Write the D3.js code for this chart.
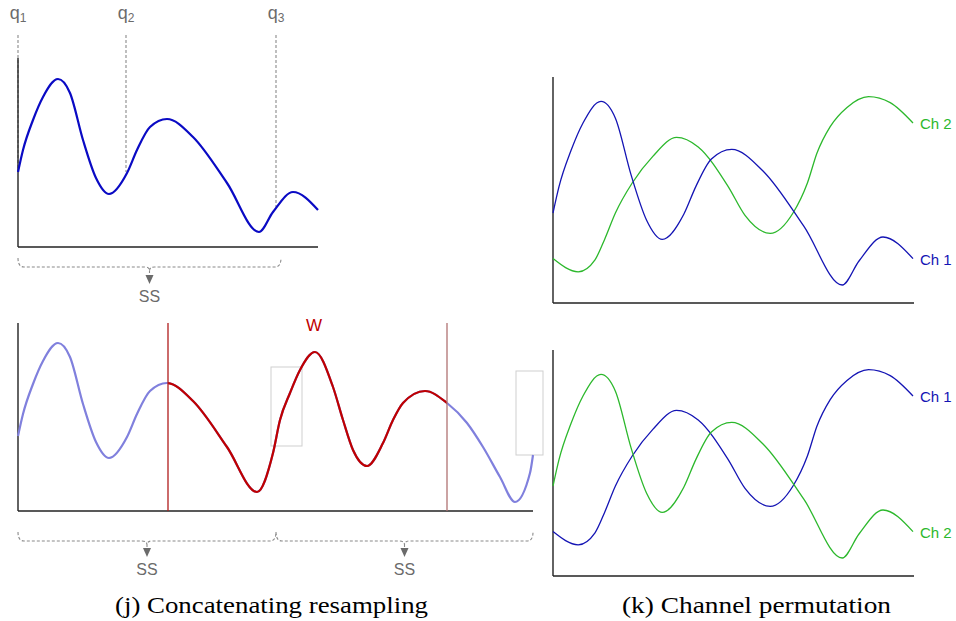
<!DOCTYPE html>
<html>
<head>
<meta charset="utf-8">
<script src="https://cdn.jsdelivr.net/npm/d3@7/dist/d3.min.js"></script>
<style>
  body { margin: 0; background: #fff; }
  svg { display: block; }
</style>
</head>
<body>
<svg id="chart" width="956" height="621"></svg>
<script>
// ---------- DATA ----------
// Base signal (Ch 1 of the original series), time vs amplitude
const baseT = [0, 5, 15, 25, 40, 52, 65, 78, 91, 109, 119, 132, 149, 175, 209, 241, 255, 275, 300];
const baseV = [75, 97, 127, 150, 168, 154, 107, 69, 53, 74, 97, 120, 128, 110, 64, 15, 35, 55, 37];

// Second channel (Ch 2)
const greenT = [0, 21, 35, 43, 52, 66, 83, 103, 121, 146, 160, 181, 200, 212, 220, 231, 245, 263, 281, 300];
const greenV = [37, 26, 36, 53, 75, 100, 122, 138, 130, 97, 73, 58, 75, 100, 125, 147, 163, 172, 167, 150];

// Concatenated (resampled) signal
const concatT = [0, 5, 15, 25, 40, 52, 65, 78, 91, 109, 119, 132, 149, 175, 209, 239, 255, 262, 272, 282, 297, 315, 325, 335, 349, 365, 375, 385, 407, 429, 449, 465, 482, 497, 512, 515];
const concatV = [75, 97, 127, 150, 168, 154, 107, 69, 53, 74, 97, 120, 128, 110, 64, 19, 58, 91, 118, 141, 159, 124, 91, 61, 45, 68, 91, 108, 120, 108, 88, 64, 34, 9, 38, 56];

// Query points q1..q3 and the signal value where each dashed line ends
const qLabels = ["1", "2", "3"];
const qT = [0, 108, 258];
const qV = [75, 75, 40];

// Window W boundaries and subsequence splits
const windowT = [150, 429];
const segStartT = [0, 258];
const segEndT = [258, 515];
const topSegT = [0, 263];
const ghostRects = [[253, 284, 65, 144], [498, 525, 56, 140]]; // t0, t1, v0, v1

const captions = ["(j) Concatenating resampling", "(k) Channel permutation"];
const chLabelsTop = ["Ch 2", "Ch 1"];
const chLabelsBottom = ["Ch 1", "Ch 2"];

// ---------- DRAWING ----------
const svg = d3.select("#chart");
const SANS = "'Liberation Sans', Arial, Helvetica, sans-serif";
const GREY = "#6b6b6b";
const AXIS = "#222";

const zip = (ts, vs) => ts.map((t, i) => [t, vs[i]]);
const base = zip(baseT, baseV);
const green = zip(greenT, greenV);
const concat = zip(concatT, concatV);

function lineGen(x, y) {
  return d3.line().x(d => x(d[0])).y(d => y(d[1])).curve(d3.curveMonotoneX);
}

function axesL(g, x0, x1, y0, y1) {
  g.append("line").attr("x1", x0).attr("x2", x0).attr("y1", y1).attr("y2", y0)
    .attr("stroke", AXIS).attr("stroke-width", 1.4);
  g.append("line").attr("x1", x0).attr("x2", x1).attr("y1", y0).attr("y2", y0)
    .attr("stroke", AXIS).attr("stroke-width", 1.4);
}

function brace(g, x0, x1, y, mid, arrowLen) {
  const p = d3.path();
  p.moveTo(x0, y - 9);
  p.quadraticCurveTo(x0, y, x0 + 6, y);
  p.lineTo(mid - 5, y);
  p.quadraticCurveTo(mid, y, mid, y + 4);
  p.quadraticCurveTo(mid, y, mid + 5, y);
  p.lineTo(x1 - 6, y);
  p.quadraticCurveTo(x1, y, x1, y - 9);
  g.append("path").attr("d", p.toString()).attr("fill", "none")
    .attr("stroke", "#8a8a8a").attr("stroke-width", 1.1).attr("stroke-dasharray", "3,2");
  g.append("line").attr("x1", mid).attr("x2", mid).attr("y1", y + 4).attr("y2", y + arrowLen - 8)
    .attr("stroke", "#8a8a8a").attr("stroke-width", 1.1).attr("stroke-dasharray", "2,2");
  g.append("path")
    .attr("d", `M${mid - 4},${y + arrowLen - 9} L${mid + 4},${y + arrowLen - 9} L${mid},${y + arrowLen} Z`)
    .attr("fill", GREY);
  g.append("text").attr("x", mid).attr("y", y + arrowLen + 18)
    .attr("text-anchor", "middle").attr("font-family", SANS).attr("font-size", 16)
    .attr("fill", GREY).text("SS");
}

// ----- Panel (j) top: original signal with query points -----
{
  const g = svg.append("g");
  const x = d3.scaleLinear().domain([0, 300]).range([18, 318]);
  const y = d3.scaleLinear().domain([0, 189]).range([247, 58]);
  qT.forEach((t, i) => {
    g.append("line").attr("x1", x(t)).attr("x2", x(t)).attr("y1", 35).attr("y2", y(qV[i]))
      .attr("stroke", "#8a8a8a").attr("stroke-width", 1.1).attr("stroke-dasharray", "3,2");
    const tx = g.append("text").attr("x", x(t)).attr("y", 19).attr("text-anchor", "middle")
      .attr("font-family", SANS).attr("fill", GREY);
    tx.append("tspan").attr("font-size", 18).text("q");
    tx.append("tspan").attr("font-size", 12).attr("dy", 3).text(qLabels[i]);
  });
  axesL(g, 18, 318, 247, 58);
  g.append("path").attr("d", lineGen(x, y)(base)).attr("fill", "none")
    .attr("stroke", "#0a0ac4").attr("stroke-width", 2.2);
  brace(g, x(topSegT[0]), x(topSegT[1]), 267, (x(topSegT[0]) + x(topSegT[1])) / 2, 17);
}

// ----- Panel (j) bottom: concatenated signal with window -----
{
  const g = svg.append("g");
  const x = d3.scaleLinear().domain([0, 300]).range([18, 318]);
  const y = d3.scaleLinear().domain([0, 189]).range([511, 322]);
  ghostRects.forEach(r => {
    g.append("rect").attr("x", x(r[0])).attr("y", y(r[3]))
      .attr("width", x(r[1]) - x(r[0])).attr("height", y(r[2]) - y(r[3]))
      .attr("fill", "none").attr("stroke", "#cfcfcf").attr("stroke-width", 1);
  });
  axesL(g, 18, 533, 511, 323);
  const path = lineGen(x, y)(concat);
  g.append("path").attr("d", path).attr("fill", "none")
    .attr("stroke", "#8080dd").attr("stroke-width", 2.2);
  svg.append("clipPath").attr("id", "wclip").append("rect")
    .attr("x", x(windowT[0])).attr("y", 300).attr("width", x(windowT[1]) - x(windowT[0])).attr("height", 230);
  g.append("path").attr("d", path).attr("fill", "none").attr("clip-path", "url(#wclip)")
    .attr("stroke", "#c00000").attr("stroke-width", 2.2);
  const wCols = ["#b01c1c", "#b07272"];
  windowT.forEach((t, i) => {
    g.append("line").attr("x1", x(t)).attr("x2", x(t)).attr("y1", 323).attr("y2", 511)
      .attr("stroke", wCols[i]).attr("stroke-width", 1.3);
  });
  g.append("text").attr("x", 314).attr("y", 331).attr("text-anchor", "middle")
    .attr("font-family", SANS).attr("font-size", 17).attr("fill", "#c00000").text("W");
  segStartT.forEach((t, i) => {
    const a = x(t), b = x(segEndT[i]);
    brace(g, a, b, 541, (a + b) / 2, 16);
  });
}

// ----- Panel (k): channel permutation -----
function chPanel(y0, y1, seriesA, colA, labA, seriesB, colB, labB) {
  const g = svg.append("g");
  const x = d3.scaleLinear().domain([0, 300]).range([553, 913]);
  const y = d3.scaleLinear().domain([0, 189]).range([y0, y0 - 1.2 * 189]);
  axesL(g, 553, 914, y0, y1);
  [[seriesA, colA, labA], [seriesB, colB, labB]].forEach(([s, c, l]) => {
    g.append("path").attr("d", lineGen(x, y)(s)).attr("fill", "none")
      .attr("stroke", c).attr("stroke-width", 1.3);
    const last = s[s.length - 1];
    g.append("text").attr("x", 920).attr("y", y(last[1]) + 6)
      .attr("font-family", SANS).attr("font-size", 15).attr("fill", c).text(l);
  });
}
const BLUE = "#1414b4", GREEN = "#2cb82c";
chPanel(303, 77, green, GREEN, chLabelsTop[0], base, BLUE, chLabelsTop[1]);
chPanel(576, 350, green, BLUE, chLabelsBottom[0], base, GREEN, chLabelsBottom[1]);

// ----- Captions -----
const capX = [[115, 428], [622, 891]];
captions.forEach((c, i) => {
  svg.append("text").attr("x", capX[i][0]).attr("y", 613)
    .attr("font-family", "'Liberation Serif', 'Times New Roman', serif").attr("font-size", 23)
    .attr("textLength", capX[i][1] - capX[i][0]).attr("lengthAdjust", "spacingAndGlyphs")
    .attr("fill", "#000").text(c);
});
</script>
</body>
</html>
